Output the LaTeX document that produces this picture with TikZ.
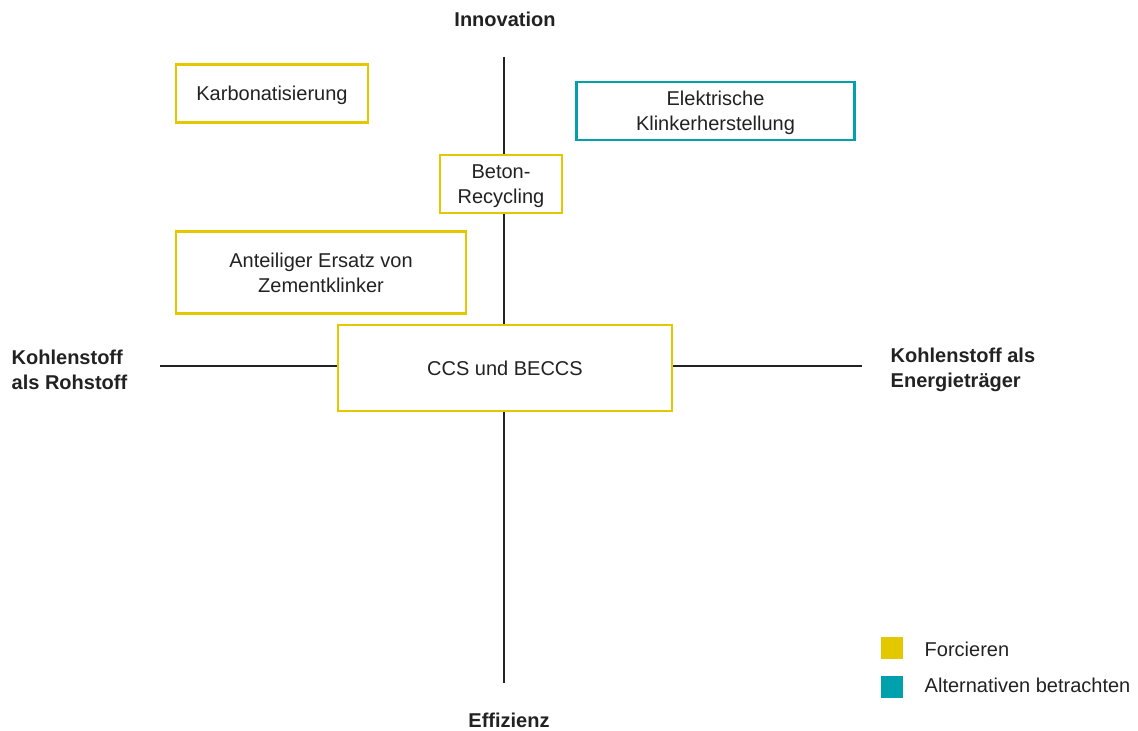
\documentclass[tikz,border=0pt]{standalone}
\usepackage{fontspec}
\setmainfont{Liberation Sans}
\usepackage{tikz}
\usetikzlibrary{positioning}
\definecolor{forcieren}{HTML}{E3C800}
\definecolor{alternativ}{HTML}{00A0AC}
\definecolor{textgrau}{HTML}{222222}

\begin{document}
\begin{tikzpicture}[x=0.75pt, y=-0.75pt,
        every node/.style={font=\fontsize{15}{18.75}\selectfont, text=textgrau},
        axis/.style={draw=textgrau, line width=1.1pt},
        hebel/.style={draw=forcieren, line width=2.2pt, fill=white, align=center, inner sep=0pt, text depth=0pt},
        hebelalt/.style={hebel, draw=alternativ},
        pol/.style={font=\fontsize{15}{18.75}\selectfont\bfseries, align=left},
        legbox/.style={minimum size=16.5pt, inner sep=0pt}]
        \useasboundingbox (0, 0) rectangle (1138, 731);
        % Achsen
        \coordinate (oben) at (504, 57);
        \coordinate (unten) at (504, 683);
        \coordinate (links) at (160, 366);
        \coordinate (rechts) at (862, 366);
        \draw[axis] (oben) -- (unten);
        \draw[axis] (links) -- (rechts);
        % Pole
        \node[pol] (innovation) at (505, 19) {Innovation};
        \node[pol] (effizienz) at (509, 720) {Effizienz};
        \node[pol, anchor=west] (rohstoff) at (7, 370) {Kohlenstoff\\als Rohstoff};
        \node[pol, anchor=west] (energie) at (886, 370) {Kohlenstoff als\\Energieträger};
        % Hebel
        \node[hebel, minimum width=144pt, minimum height=44pt] (karbo) at (272, 93.5) {Karbonatisierung};
        \node[hebelalt, minimum width=209pt, minimum height=43.5pt] (elektro) at (715.5, 111) {Elektrische\\Klinkerherstellung};
        \node[hebel, minimum width=91.5pt, minimum height=43.5pt] (beton) at (501, 184) {Beton-\\Recycling};
        \node[hebel, minimum width=217.5pt, minimum height=61pt] (ersatz) at (321, 272.5) {Anteiliger Ersatz von\\Zementklinker};
        \node[hebel, minimum width=250.5pt, minimum height=64.5pt] (ccs) at (505, 368) {CCS und BECCS};
        % Legende
        \node[legbox, fill=forcieren] (legf) at (892, 648) {};
        \node[legbox, fill=alternativ] (lega) at (892, 687) {};
        \node[anchor=west] (legftext) at (920, 649) {Forcieren};
        \node[anchor=west] (legatext) at (920, 685) {Alternativen betrachten};
\end{tikzpicture}
\end{document}
